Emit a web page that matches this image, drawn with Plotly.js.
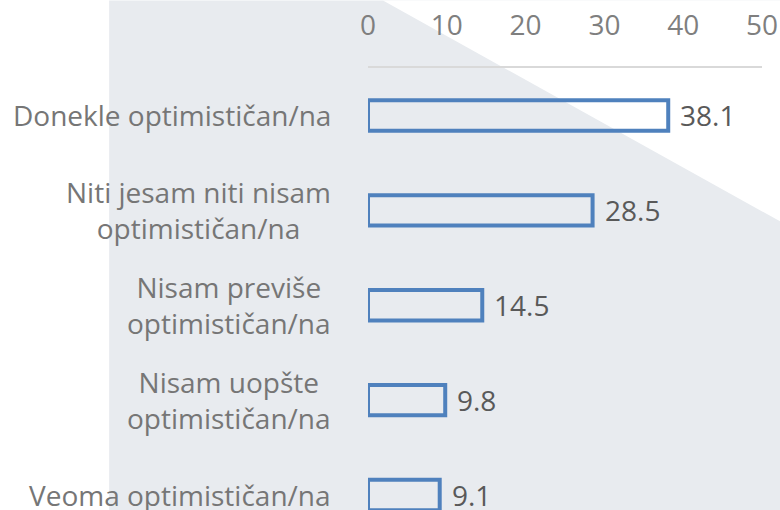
<!DOCTYPE html>
<html>
<head>
<meta charset="utf-8">
<script src="https://cdn.plot.ly/plotly-3.0.1.min.js"></script>
<style>html,body{margin:0;padding:0;background:#fff;}#chart{width:780px;height:510px;}</style>
</head>
<body>
<div id="chart"></div>
<script>
var categories = ["Donekle optimističan/na", "Niti jesam niti nisam optimističan/na", "Nisam previše optimističan/na", "Nisam uopšte optimističan/na", "Veoma optimističan/na"];
var labelText = ["Donekle optimističan/na", "Niti jesam niti nisam<br>optimističan/na", "Nisam previše<br>optimističan/na", "Nisam uopšte<br>optimističan/na", "Veoma optimističan/na"];
var values = [38.1, 28.5, 14.5, 9.8, 9.1];
var tickVals = [0, 10, 20, 30, 40, 50];

var FONT = "Open Sans, sans-serif";

var trace = {
  type: "bar",
  orientation: "h",
  x: values,
  y: categories,
  width: 0.32,
  marker: {color: "rgba(0,0,0,0)", line: {color: "#4f81bd", width: 4}},
  hoverinfo: "none",
  cliponaxis: false
};

var annotations = [];
categories.forEach(function (c, i) {
  annotations.push({
    xref: "paper", yref: "y", x: -0.0885, y: c,
    xanchor: "right", yanchor: "middle", align: "center",
    text: labelText[i], showarrow: false,
    font: {family: FONT, size: 28, color: "#767676"}
  });
  annotations.push({
    xref: "x", yref: "y", x: values[i], y: c,
    xanchor: "left", yanchor: "middle", xshift: 10,
    text: String(values[i]), showarrow: false,
    font: {family: FONT, size: 28, color: "#595959"}
  });
});

var layout = {
  width: 780, height: 510,
  margin: {l: 368, r: 18, t: 68, b: 0, pad: 0},
  paper_bgcolor: "#ffffff",
  plot_bgcolor: "rgba(0,0,0,0)",
  showlegend: false,
  xaxis: {
    side: "top", range: [0, 50], tickvals: tickVals, ticktext: tickVals.map(String),
    showgrid: false, zeroline: false, showline: true, linecolor: "#d9d9d9", linewidth: 2,
    ticks: "", ticklabelstandoff: 20,
    tickfont: {family: FONT, size: 28, color: "#7f7f7f"}, fixedrange: true
  },
  yaxis: {
    type: "category", categoryorder: "array", categoryarray: categories,
    range: [4.158, -0.5], showticklabels: false, showgrid: false, zeroline: false,
    showline: false, ticks: "", fixedrange: true
  },
  shapes: [
    {type: "rect", xref: "paper", yref: "paper", x0: -0.657, x1: 1.0457, y0: 0, y1: 1.1525,
     fillcolor: "#e8ebef", line: {width: 0}, layer: "below"},
    {type: "path", xref: "paper", yref: "paper",
     path: "M 0.0381 1.1525 L 1.0457 1.1525 L 1.0457 0.6531 Z",
     fillcolor: "#ffffff", line: {width: 0}, layer: "below"}
  ],
  annotations: annotations
};

Plotly.newPlot("chart", [trace], layout, {displayModeBar: false, staticPlot: true});
</script>
</body>
</html>
